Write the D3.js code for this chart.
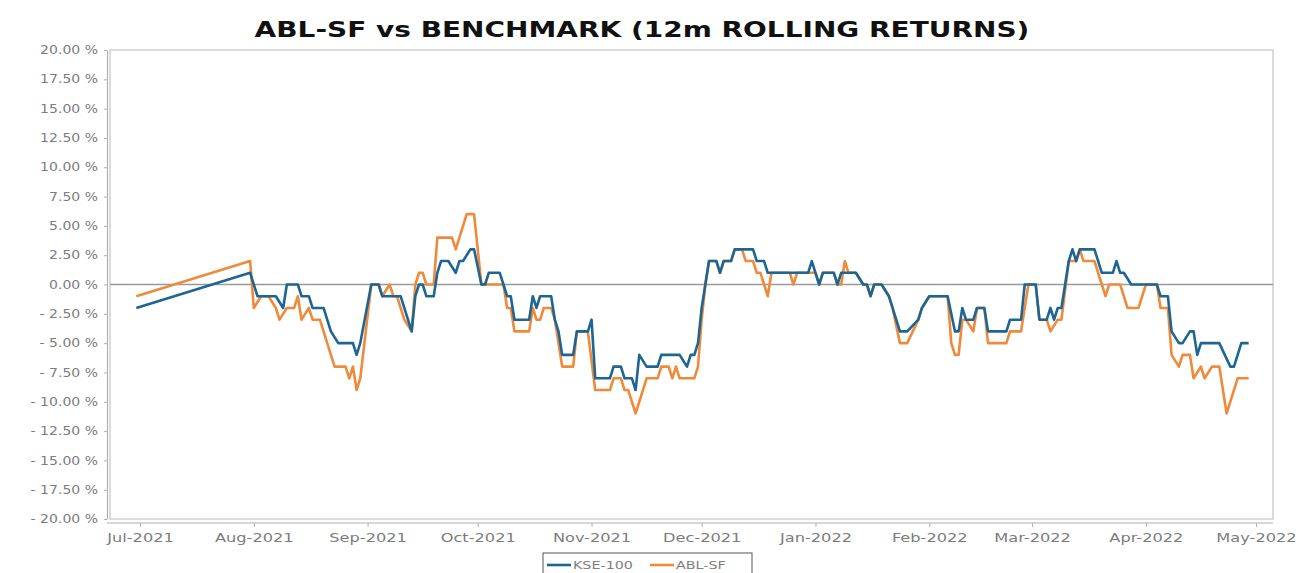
<!DOCTYPE html>
<html><head><meta charset="utf-8">
<script src="https://cdn.jsdelivr.net/npm/d3@7"></script>
<style>body{margin:0;background:#fff}</style>
</head><body>
<svg id="c" width="1302" height="573"></svg>
<script>
const title = "ABL-SF vs BENCHMARK (12m ROLLING RETURNS)";
const seriesNames = ["KSE-100", "ABL-SF"];
const yTicks = [20, 17.5, 15, 12.5, 10, 7.5, 5, 2.5, 0, -2.5, -5, -7.5, -10, -12.5, -15, -17.5, -20];
const monthTicks = ["2021-07-01","2021-08-01","2021-09-01","2021-10-01","2021-11-01","2021-12-01",
  "2022-01-01","2022-02-01","2022-03-01","2022-04-01","2022-05-01"];

// KSE-100 12m rolling return (%)
const kse = [
["2021-06-30",-2],["2021-07-31",1],["2021-08-02",-1],["2021-08-07",-1],["2021-08-09",-2],
["2021-08-10",0],["2021-08-13",0],["2021-08-14",-1],["2021-08-16",-1],["2021-08-17",-2],
["2021-08-20",-2],["2021-08-21",-3],["2021-08-22",-4],["2021-08-24",-5],["2021-08-28",-5],
["2021-08-29",-6],["2021-08-30",-5],["2021-09-02",0],["2021-09-04",0],["2021-09-05",-1],
["2021-09-10",-1],["2021-09-11",-2],["2021-09-13",-4],["2021-09-14",-1],["2021-09-15",0],
["2021-09-16",0],["2021-09-17",-1],["2021-09-19",-1],["2021-09-20",1],["2021-09-21",2],
["2021-09-23",2],["2021-09-25",1],["2021-09-26",2],["2021-09-27",2],["2021-09-29",3],
["2021-09-30",3],["2021-10-02",0],["2021-10-03",0],["2021-10-04",1],["2021-10-07",1],
["2021-10-08",0],["2021-10-09",-1],["2021-10-10",-1],["2021-10-11",-3],["2021-10-15",-3],
["2021-10-16",-1],["2021-10-17",-2],["2021-10-18",-1],["2021-10-21",-1],["2021-10-22",-3],
["2021-10-23",-4],["2021-10-24",-6],["2021-10-27",-6],["2021-10-28",-4],["2021-10-31",-4],
["2021-11-01",-3],["2021-11-02",-8],["2021-11-06",-8],["2021-11-07",-7],["2021-11-09",-7],
["2021-11-10",-8],["2021-11-12",-8],["2021-11-13",-9],["2021-11-14",-6],["2021-11-16",-7],
["2021-11-19",-7],["2021-11-20",-6],["2021-11-25",-6],["2021-11-27",-7],["2021-11-28",-6],
["2021-11-29",-6],["2021-11-30",-5],["2021-12-01",-2],["2021-12-02",0],["2021-12-03",2],
["2021-12-05",2],["2021-12-06",1],["2021-12-07",2],["2021-12-09",2],["2021-12-10",3],
["2021-12-15",3],["2021-12-16",2],["2021-12-18",2],["2021-12-19",1],["2021-12-30",1],
["2021-12-31",2],["2022-01-01",1],["2022-01-02",0],["2022-01-03",1],["2022-01-06",1],
["2022-01-07",0],["2022-01-08",1],["2022-01-12",1],["2022-01-14",0],["2022-01-15",0],
["2022-01-16",-1],["2022-01-17",0],["2022-01-19",0],["2022-01-21",-1],["2022-01-22",-2],
["2022-01-24",-4],["2022-01-26",-4],["2022-01-29",-3],["2022-01-30",-2],["2022-02-01",-1],
["2022-02-06",-1],["2022-02-08",-4],["2022-02-09",-4],["2022-02-10",-2],["2022-02-11",-3],
["2022-02-13",-3],["2022-02-14",-2],["2022-02-16",-2],["2022-02-17",-4],["2022-02-22",-4],
["2022-02-23",-3],["2022-02-26",-3],["2022-02-27",0],["2022-03-02",0],["2022-03-03",-3],
["2022-03-05",-3],["2022-03-06",-2],["2022-03-07",-3],["2022-03-08",-2],["2022-03-09",-2],
["2022-03-11",2],["2022-03-12",3],["2022-03-13",2],["2022-03-14",3],["2022-03-18",3],
["2022-03-19",2],["2022-03-20",1],["2022-03-23",1],["2022-03-24",2],["2022-03-25",1],
["2022-03-26",1],["2022-03-28",0],["2022-04-04",0],["2022-04-05",-1],["2022-04-07",-1],
["2022-04-08",-4],["2022-04-10",-5],["2022-04-11",-5],["2022-04-13",-4],["2022-04-14",-4],
["2022-04-15",-6],["2022-04-16",-5],["2022-04-21",-5],["2022-04-24",-7],["2022-04-25",-7],
["2022-04-27",-5],["2022-04-29",-5]
];

// ABL-SF 12m rolling return (%)
const abl = [
["2021-06-30",-1],["2021-07-31",2],["2021-08-01",-2],["2021-08-03",-1],["2021-08-05",-1],
["2021-08-07",-2],["2021-08-08",-3],["2021-08-10",-2],["2021-08-12",-2],["2021-08-13",-1],
["2021-08-14",-3],["2021-08-16",-2],["2021-08-17",-3],["2021-08-19",-3],["2021-08-20",-4],
["2021-08-21",-5],["2021-08-22",-6],["2021-08-23",-7],["2021-08-26",-7],["2021-08-27",-8],
["2021-08-28",-7],["2021-08-29",-9],["2021-08-30",-8],["2021-09-02",0],["2021-09-04",0],
["2021-09-05",-1],["2021-09-07",0],["2021-09-08",-1],["2021-09-09",-1],["2021-09-10",-2],
["2021-09-11",-3],["2021-09-13",-4],["2021-09-14",0],["2021-09-15",1],["2021-09-16",1],
["2021-09-17",0],["2021-09-19",0],["2021-09-20",4],["2021-09-24",4],["2021-09-25",3],
["2021-09-26",4],["2021-09-28",6],["2021-09-30",6],["2021-10-02",0],["2021-10-08",0],
["2021-10-09",-2],["2021-10-10",-2],["2021-10-11",-4],["2021-10-15",-4],["2021-10-16",-2],
["2021-10-17",-3],["2021-10-18",-3],["2021-10-19",-2],["2021-10-21",-2],["2021-10-22",-3],
["2021-10-23",-5],["2021-10-24",-7],["2021-10-27",-7],["2021-10-28",-4],["2021-10-31",-4],
["2021-11-02",-9],["2021-11-06",-9],["2021-11-07",-8],["2021-11-09",-8],["2021-11-10",-9],
["2021-11-11",-9],["2021-11-12",-10],["2021-11-13",-11],["2021-11-14",-10],["2021-11-15",-9],
["2021-11-16",-8],["2021-11-19",-8],["2021-11-20",-7],["2021-11-22",-7],["2021-11-23",-8],
["2021-11-24",-7],["2021-11-25",-8],["2021-11-29",-8],["2021-11-30",-7],["2021-12-01",-3],
["2021-12-02",0],["2021-12-03",2],["2021-12-05",2],["2021-12-06",1],["2021-12-07",2],
["2021-12-09",2],["2021-12-10",3],["2021-12-12",3],["2021-12-13",2],["2021-12-15",2],
["2021-12-16",1],["2021-12-17",1],["2021-12-19",-1],["2021-12-20",1],["2021-12-25",1],
["2021-12-26",0],["2021-12-27",1],["2021-12-30",1],["2022-01-01",1],["2022-01-02",0],
["2022-01-03",1],["2022-01-06",1],["2022-01-07",0],["2022-01-08",0],["2022-01-09",2],
["2022-01-10",1],["2022-01-12",1],["2022-01-14",0],["2022-01-15",0],["2022-01-16",-1],
["2022-01-17",0],["2022-01-19",0],["2022-01-21",-1],["2022-01-22",-2],["2022-01-24",-5],
["2022-01-26",-5],["2022-01-29",-3],["2022-01-30",-2],["2022-02-01",-1],["2022-02-06",-1],
["2022-02-07",-5],["2022-02-08",-6],["2022-02-09",-6],["2022-02-10",-3],["2022-02-11",-3],
["2022-02-13",-4],["2022-02-14",-2],["2022-02-16",-2],["2022-02-17",-5],["2022-02-22",-5],
["2022-02-23",-4],["2022-02-26",-4],["2022-02-28",0],["2022-03-02",0],["2022-03-03",-3],
["2022-03-05",-3],["2022-03-06",-4],["2022-03-08",-3],["2022-03-09",-3],["2022-03-11",2],
["2022-03-13",2],["2022-03-14",3],["2022-03-15",2],["2022-03-18",2],["2022-03-19",1],
["2022-03-20",0],["2022-03-21",-1],["2022-03-22",0],["2022-03-25",0],["2022-03-27",-2],
["2022-03-30",-2],["2022-04-01",0],["2022-04-04",0],["2022-04-05",-2],["2022-04-07",-2],
["2022-04-08",-6],["2022-04-10",-7],["2022-04-11",-6],["2022-04-13",-6],["2022-04-14",-8],
["2022-04-16",-7],["2022-04-17",-8],["2022-04-19",-7],["2022-04-21",-7],["2022-04-23",-11],
["2022-04-26",-8],["2022-04-29",-8]
];

const colors = {kse: "#1d6593", abl: "#f08a3a"};
const FONT = "'DejaVu Sans', Verdana, sans-serif";
const parse = d3.utcParse("%Y-%m-%d");

const svg = d3.select("#c");
const L = 110, R = 1273, T = 50, B = 519;

const x = d3.scaleUtc().domain([parse("2021-07-01"), parse("2022-05-01")]).range([140, 1256]);
const y = d3.scaleLinear().domain([-20, 20]).range([B, T]);

function stretch(sel, f) {
  sel.each(function() {
    const t = d3.select(this);
    const tx = +t.attr("x") || 0;
    t.attr("x", tx / f);
    const prev = t.attr("transform") || "";
    t.attr("transform", prev + ` scale(${f},1)`);
  });
}

// title
const tt = svg.append("text").attr("y", 37).attr("text-anchor", "middle")
  .attr("font-family", FONT).attr("font-weight", "bold").attr("font-size", 21)
  .attr("fill", "#111").text(title);
const tlen = tt.node().getComputedTextLength();
tt.attr("transform", `translate(642,0) scale(${775 / tlen},1)`);

// plot frame
svg.append("rect").attr("x", L).attr("y", T).attr("width", R - L).attr("height", B - T)
  .attr("fill", "none").attr("stroke", "#c4c4c4").attr("stroke-width", 1.2);

// zero line
svg.append("line").attr("x1", L).attr("x2", R).attr("y1", y(0)).attr("y2", y(0))
  .attr("stroke", "#999").attr("stroke-width", 1.3);

// y axis
const fmt = v => (v < 0 ? "- " + Math.abs(v).toFixed(2) : v.toFixed(2)) + " %";
const ya = svg.append("g").attr("transform", "translate(107,0)")
  .call(d3.axisLeft(y).tickValues(yTicks).tickFormat(fmt).tickSize(3).tickPadding(6).tickSizeOuter(0));
ya.select(".domain").attr("stroke", "#b0b0b0").attr("stroke-width", 1.2);
ya.selectAll(".tick line").attr("stroke", "#b0b0b0");
ya.selectAll(".tick text").attr("font-family", FONT).attr("font-size", 11.5).attr("fill", "#7c7c7c");
stretch(ya.selectAll(".tick text"), 1.22);

// x axis
const xa = svg.append("g").attr("transform", "translate(0,523)")
  .call(d3.axisBottom(x).tickValues(monthTicks.map(parse)).tickFormat(d3.utcFormat("%b-%Y"))
    .tickSize(4).tickPadding(6).tickSizeOuter(0));
xa.select(".domain").remove();
xa.append("line").attr("x1", L - 3).attr("x2", R).attr("y1", 0).attr("y2", 0)
  .attr("stroke", "#b0b0b0").attr("stroke-width", 1.2);
xa.selectAll(".tick line").attr("stroke", "#b0b0b0");
xa.selectAll(".tick text").attr("font-family", FONT).attr("font-size", 12).attr("fill", "#7c7c7c");
stretch(xa.selectAll(".tick text"), 1.35);

// lines
const line = d3.line().x(d => x(parse(d[0]))).y(d => y(d[1]));
svg.append("path").datum(abl).attr("d", line).attr("fill", "none")
  .attr("stroke", colors.abl).attr("stroke-width", 2.6).attr("stroke-linejoin", "round");
svg.append("path").datum(kse).attr("d", line).attr("fill", "none")
  .attr("stroke", colors.kse).attr("stroke-width", 2.6).attr("stroke-linejoin", "round");

// legend
const lg = svg.append("g");
lg.append("rect").attr("x", 543).attr("y", 553).attr("width", 209).attr("height", 24)
  .attr("fill", "#fff").attr("stroke", "#555").attr("stroke-width", 1);
const items = [{n: seriesNames[0], c: colors.kse, x: 547}, {n: seriesNames[1], c: colors.abl, x: 650}];
items.forEach(it => {
  lg.append("line").attr("x1", it.x).attr("x2", it.x + 24).attr("y1", 565).attr("y2", 565)
    .attr("stroke", it.c).attr("stroke-width", 2.6);
  const t = lg.append("text").attr("y", 569).attr("font-family", FONT).attr("font-size", 11)
    .attr("fill", "#808080").text(it.n);
  t.attr("transform", `translate(${it.x + 26},0) scale(1.3,1)`);
});
</script>
</body></html>
